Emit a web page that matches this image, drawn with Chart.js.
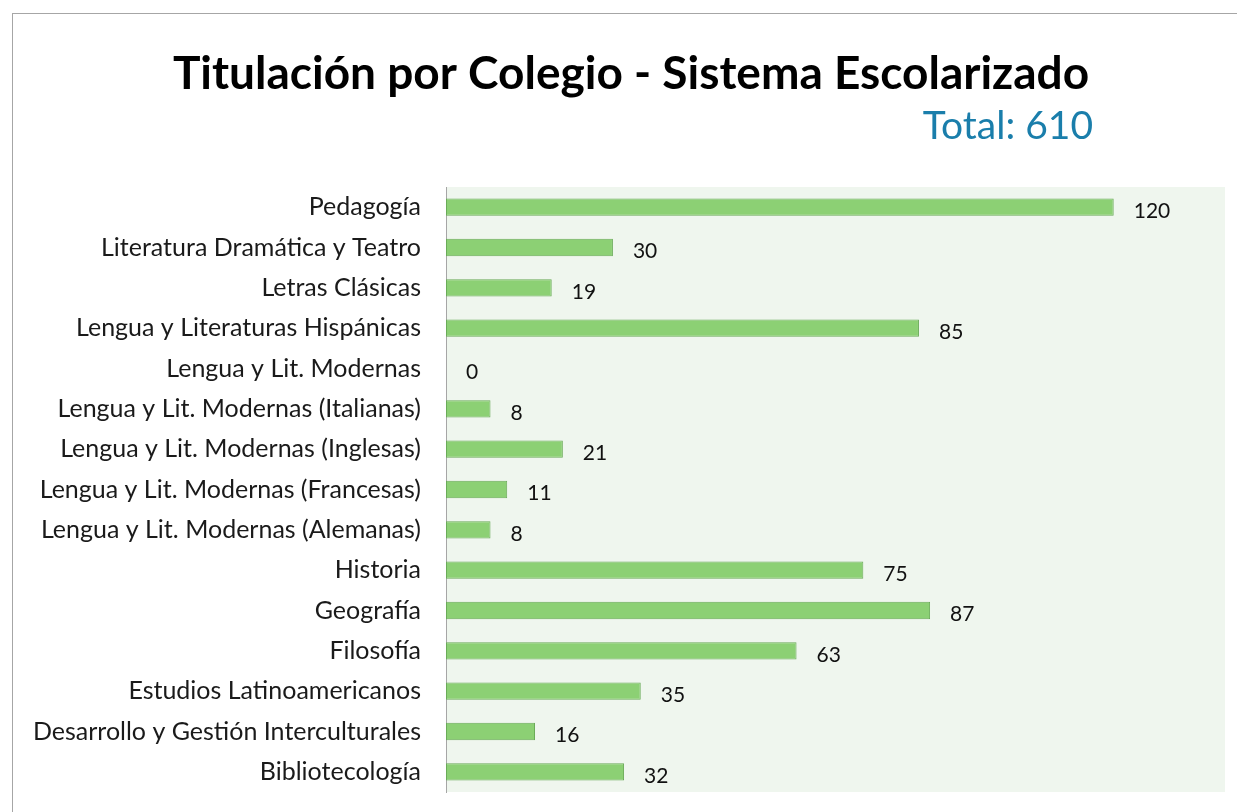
<!DOCTYPE html>
<html>
<head>
<meta charset="utf-8">
<script src="https://cdn.jsdelivr.net/npm/chart.js@4.4.1/dist/chart.umd.min.js"></script>
<style>
    body { margin: 0; background: #fff; overflow: hidden; }
    #frame {
        position: absolute; left: 12px; top: 13px; width: 1240px; height: 820px;
        border-top: 1px solid #a6a6a6; border-left: 1px solid #a6a6a6;
    }
    #wrap { position: absolute; left: 0; top: 0; width: 1237px; height: 832px; }
</style>
</head>
<body>
<div id="frame"></div>
<div id="wrap"><canvas id="chart"></canvas></div>
<script>
const FONT = 'Lato, "Open Sans", sans-serif';

const chartTitle = 'Titulación por Colegio - Sistema Escolarizado';
const chartSubtitle = 'Total: 610';

const categories = [
    'Pedagogía',
    'Literatura Dramática y Teatro',
    'Letras Clásicas',
    'Lengua y Literaturas Hispánicas',
    'Lengua y Lit. Modernas',
    'Lengua y Lit. Modernas (Italianas)',
    'Lengua y Lit. Modernas (Inglesas)',
    'Lengua y Lit. Modernas (Francesas)',
    'Lengua y Lit. Modernas (Alemanas)',
    'Historia',
    'Geografía',
    'Filosofía',
    'Estudios Latinoamericanos',
    'Desarrollo y Gestión Interculturales',
    'Bibliotecología'
];

const graduates = [120, 30, 19, 85, 0, 8, 21, 11, 8, 75, 87, 63, 35, 16, 32];

const axisMax = 140;

// plot background + titles + value labels
const decorations = {
    id: 'decorations',
    beforeDraw(chart) {
        const { ctx, chartArea } = chart;
        ctx.save();
        ctx.fillStyle = '#eff6ee';
        ctx.fillRect(chartArea.left, chartArea.top,
            chartArea.right - chartArea.left, chartArea.bottom - chartArea.top);
        ctx.restore();
    },
    afterDraw(chart) {
        const { ctx } = chart;
        ctx.save();

        ctx.fillStyle = '#000';
        ctx.font = 'bold 46px ' + FONT;
        ctx.textAlign = 'center';
        ctx.textBaseline = 'alphabetic';
        ctx.fillText(chartTitle, 631, 89);

        ctx.fillStyle = '#1a7eab';
        ctx.font = '39px ' + FONT;
        ctx.textAlign = 'right';
        ctx.fillText(chartSubtitle, 1093, 139);

        ctx.fillStyle = '#111';
        ctx.font = '21px ' + FONT;
        ctx.textAlign = 'left';
        ctx.textBaseline = 'middle';
        const meta = chart.getDatasetMeta(0);
        meta.data.forEach((bar, i) => {
            ctx.fillText(String(graduates[i]), bar.x + 20, bar.y + 4);
        });

        ctx.restore();
    }
};

new Chart(document.getElementById('chart'), {
    type: 'bar',
    data: {
        labels: categories,
        datasets: [{
            data: graduates,
            backgroundColor: '#8cd074',
            borderColor: '#6aab58',
            borderWidth: 1,
            borderSkipped: false,
            barPercentage: 0.43,
            categoryPercentage: 1
        }]
    },
    options: {
        indexAxis: 'y',
        responsive: true,
        maintainAspectRatio: false,
        animation: false,
        layout: {
            padding: { top: 187, right: 12, bottom: 39, left: 0 }
        },
        plugins: {
            legend: { display: false },
            tooltip: { enabled: false }
        },
        scales: {
            x: {
                display: false,
                min: 0,
                max: axisMax
            },
            y: {
                grid: { display: false, drawTicks: false },
                border: { display: true, color: '#a6a6a6', width: 1 },
                ticks: {
                    color: '#1a1a1a',
                    padding: 25,
                    font: { family: FONT, size: 25 }
                },
                afterFit(scale) {
                    scale.width = 446;
                }
            }
        }
    },
    plugins: [decorations]
});
</script>
</body>
</html>
